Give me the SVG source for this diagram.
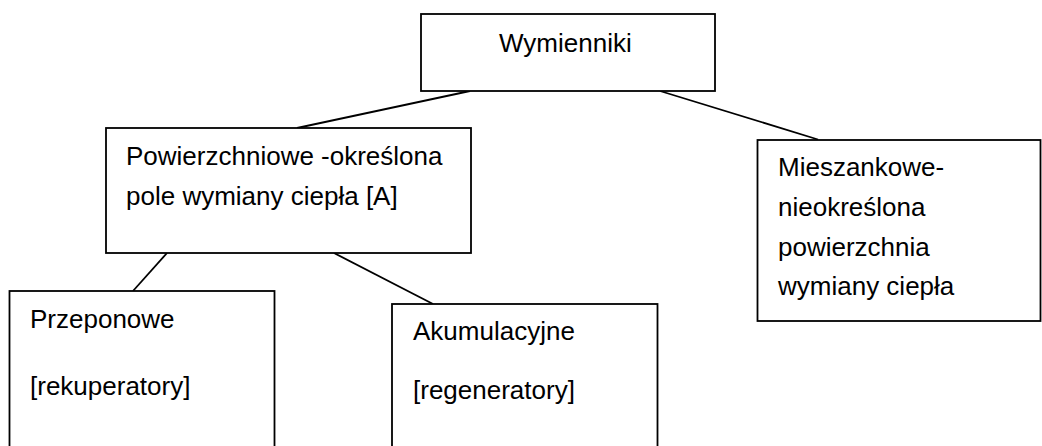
<svg xmlns="http://www.w3.org/2000/svg" width="1042" height="446" viewBox="0 0 1042 446">
<style>
.box{fill:#fff;stroke:#000;stroke-width:1.8}
.lbl{font-family:"Liberation Sans",Arial,sans-serif;font-size:26px;fill:#000}
.conn line{stroke:#000;stroke-width:1.8}
</style>
<rect width="1042" height="446" fill="#fff"/>
<g id="connectors" class="conn">
<line x1="470" y1="91" x2="297" y2="128"/>
<line x1="660" y1="91" x2="818" y2="139.5"/>
<line x1="167" y1="253" x2="133" y2="291"/>
<line x1="334" y1="253" x2="433" y2="304"/>
</g>
<g id="wymienniki">
<rect class="box" x="421" y="14" width="294" height="77"/>
<text class="lbl" x="499" y="52">Wymienniki</text>
</g>
<g id="powierzchniowe">
<rect class="box" x="106" y="128" width="365" height="125"/>
<text class="lbl" x="126" y="165">Powierzchniowe -określona</text>
<text class="lbl" x="126" y="205">pole wymiany ciepła [A]</text>
</g>
<g id="mieszankowe">
<rect class="box" x="757.5" y="140" width="283" height="181"/>
<text class="lbl" x="778" y="176">Mieszankowe-</text>
<text class="lbl" x="778" y="216">nieokreślona</text>
<text class="lbl" x="778" y="256">powierzchnia</text>
<text class="lbl" x="778" y="295">wymiany ciepła</text>
</g>
<g id="przeponowe">
<rect class="box" x="9.5" y="291" width="265" height="170"/>
<text class="lbl" x="30" y="328">Przeponowe</text>
<text class="lbl" x="30" y="395">[rekuperatory]</text>
</g>
<g id="akumulacyjne">
<rect class="box" x="392" y="304" width="265.5" height="160"/>
<text class="lbl" x="413" y="340">Akumulacyjne</text>
<text class="lbl" x="413" y="399">[regeneratory]</text>
</g>
</svg>
